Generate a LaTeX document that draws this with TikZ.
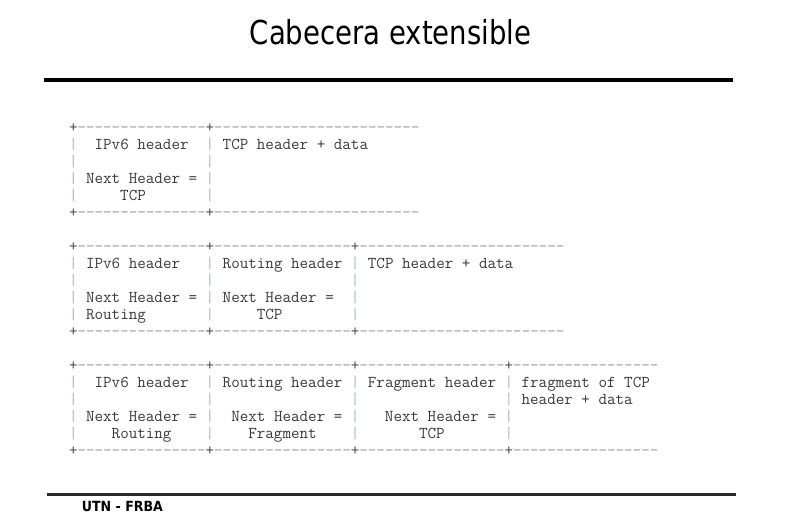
\documentclass[tikz,border=0pt]{standalone}
\usepackage{fontspec}
\setsansfont{DejaVu Sans}
\newfontfamily\titlefont[FakeStretch=0.834]{DejaVu Sans}
\newfontfamily\footfont[FakeStretch=0.9]{DejaVu Sans}
\usetikzlibrary{positioning}

\definecolor{txtgray}{HTML}{3A3A3A}
\definecolor{dashgray}{HTML}{9A9A9A}
\definecolor{bargray}{HTML}{A6BACF}
\definecolor{plusblue}{HTML}{3E5070}
\definecolor{rulegray}{HTML}{2A2A2A}

\begin{document}
\begin{tikzpicture}[x=1pt, y=1pt,
            ascii/.style={anchor=base west, inner sep=0pt, outer sep=0pt, font=\ttfamily\fontsize{16.6}{17}\selectfont},
            cell/.style={ascii, text=txtgray},
            frame/.style={ascii, text=dashgray},
            corner/.style={ascii, text=plusblue},
            bar/.style={ascii, text=bargray}]

    \fill[white] (0,0) rectangle (790,519);
    \useasboundingbox (0,0) rectangle (790,519);

    % Title and rules
    \node[anchor=base, inner sep=0pt, font=\titlefont\fontsize{33}{36}\selectfont] (title) at (390.5,474.7) {Cabecera extensible};
    \draw[line width=4pt] (44,439.3) -- (732.7,439.3);
    \draw[line width=3.3pt, rulegray] (46.7,24.5) -- (736,24.5);
    \node[anchor=base west, inner sep=0pt, font=\footfont\bfseries\fontsize{14}{16}\selectfont] (utn) at (81.7,7) {UTN - FRBA};

    \begin{scope}[shift={(69,386.5)}, x=8.54pt, y=-17pt]
        % corners and vertical bars of the three frames
        \foreach \r/\seps in {0/{0,16}, 7/{0,16,33}, 14/{0,16,33,51}} {
            \foreach \s in \seps {
                \node[corner] (top-\r-\s) at (\s,\r) {+};
                \node[corner] (bot-\r-\s) at (\s,\r+5) {+};
                \foreach \k in {1,...,4}
                    \node[bar] (bar-\r-\s-\k) at (\s,\r+\k) {|};
            }
        }
        % dashed runs: row / first column / length
        \foreach \r/\c/\n in {0/1/15, 0/17/24, 7/1/15, 7/17/16, 7/34/24,
                              14/1/15, 14/17/16, 14/34/17, 14/52/17} {
            \node[frame] (dtop-\r-\c) at (\c,\r) {\foreach \i in {1,...,\n}{-}};
            \node[frame] (dbot-\r-\c) at (\c,\r+5) {\foreach \i in {1,...,\n}{-}};
        }

        % IPv6 header + TCP
        \node[cell] (ipv6A) at (3,1) {IPv6 header};
        \node[cell] (tcpA) at (18,1) {TCP header + data};
        \node[cell] (nextA) at (2,3) {Next Header =};
        \node[cell] (nextTcpA) at (6,4) {TCP};

        % IPv6 header + Routing header + TCP
        \node[cell] (ipv6B) at (2,8) {IPv6 header};
        \node[cell] (routB) at (18,8) {Routing header};
        \node[cell] (tcpB) at (35,8) {TCP header + data};
        \node[cell] (nextB) at (2,10) {Next Header =};
        \node[cell] (nextRoutB) at (18,10) {Next Header =};
        \node[cell] (nextRoutingB) at (2,11) {Routing};
        \node[cell] (nextTcpB) at (22,11) {TCP};

        % IPv6 header + Routing header + Fragment header + TCP
        \node[cell] (ipv6C) at (3,15) {IPv6 header};
        \node[cell] (routC) at (18,15) {Routing header};
        \node[cell] (fragC) at (35,15) {Fragment header};
        \node[cell] (tcpC) at (53,15) {fragment of TCP};
        \node[cell] (tcpDataC) at (53,16) {header + data};
        \node[cell] (nextC) at (2,17) {Next Header =};
        \node[cell] (nextRoutC) at (19,17) {Next Header =};
        \node[cell] (nextFragC) at (37,17) {Next Header =};
        \node[cell] (nextRoutingC) at (5,18) {Routing};
        \node[cell] (nextFragmentC) at (21,18) {Fragment};
        \node[cell] (nextTcpC) at (41,18) {TCP};
    \end{scope}
\end{tikzpicture}
\end{document}
